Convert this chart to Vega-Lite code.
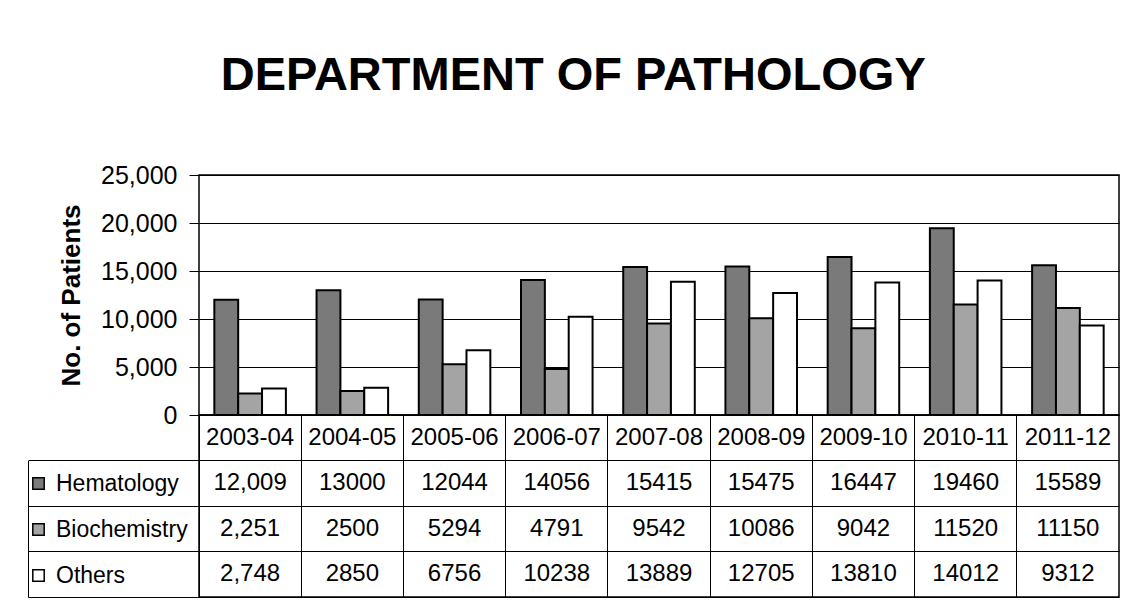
{
  "$schema": "https://vega.github.io/schema/vega-lite/v6.json",
  "background": "white",
  "padding": {"left": 26, "top": 52, "right": 5, "bottom": 5},
  "bounds": "flush",
  "spacing": 0,
  "config": {
    "font": "Liberation Sans",
    "view": {"stroke": "black", "strokeWidth": 1.5},
    "axis": {"labelFont": "Liberation Sans", "titleFont": "Liberation Sans", "labelColor": "black", "titleColor": "black"},
    "legend": {"labelFont": "Liberation Sans", "labelColor": "black"}
  },
  "title": {
    "text": "DEPARTMENT OF PATHOLOGY",
    "font": "Liberation Sans",
    "fontSize": 47,
    "fontWeight": "bold",
    "color": "black",
    "anchor": "middle",
    "baseline": "alphabetic",
    "offset": 25
  },
  "datasets": {
    "counts": [
      {"year": "2003-04", "series": "Hematology", "patients": 12009, "shown": "12,009"},
      {"year": "2004-05", "series": "Hematology", "patients": 13000, "shown": "13000"},
      {"year": "2005-06", "series": "Hematology", "patients": 12044, "shown": "12044"},
      {"year": "2006-07", "series": "Hematology", "patients": 14056, "shown": "14056"},
      {"year": "2007-08", "series": "Hematology", "patients": 15415, "shown": "15415"},
      {"year": "2008-09", "series": "Hematology", "patients": 15475, "shown": "15475"},
      {"year": "2009-10", "series": "Hematology", "patients": 16447, "shown": "16447"},
      {"year": "2010-11", "series": "Hematology", "patients": 19460, "shown": "19460"},
      {"year": "2011-12", "series": "Hematology", "patients": 15589, "shown": "15589"},
      {"year": "2003-04", "series": "Biochemistry", "patients": 2251, "shown": "2,251"},
      {"year": "2004-05", "series": "Biochemistry", "patients": 2500, "shown": "2500"},
      {"year": "2005-06", "series": "Biochemistry", "patients": 5294, "shown": "5294"},
      {"year": "2006-07", "series": "Biochemistry", "patients": 4791, "shown": "4791"},
      {"year": "2007-08", "series": "Biochemistry", "patients": 9542, "shown": "9542"},
      {"year": "2008-09", "series": "Biochemistry", "patients": 10086, "shown": "10086"},
      {"year": "2009-10", "series": "Biochemistry", "patients": 9042, "shown": "9042"},
      {"year": "2010-11", "series": "Biochemistry", "patients": 11520, "shown": "11520"},
      {"year": "2011-12", "series": "Biochemistry", "patients": 11150, "shown": "11150"},
      {"year": "2003-04", "series": "Others", "patients": 2748, "shown": "2,748"},
      {"year": "2004-05", "series": "Others", "patients": 2850, "shown": "2850"},
      {"year": "2005-06", "series": "Others", "patients": 6756, "shown": "6756"},
      {"year": "2006-07", "series": "Others", "patients": 10238, "shown": "10238"},
      {"year": "2007-08", "series": "Others", "patients": 13889, "shown": "13889"},
      {"year": "2008-09", "series": "Others", "patients": 12705, "shown": "12705"},
      {"year": "2009-10", "series": "Others", "patients": 13810, "shown": "13810"},
      {"year": "2010-11", "series": "Others", "patients": 14012, "shown": "14012"},
      {"year": "2011-12", "series": "Others", "patients": 9312, "shown": "9312"}
    ]
  },
  "data": {"name": "counts"},
  "resolve": {"scale": {"x": "independent", "y": "independent"}},
  "vconcat": [
    {
      "width": 920,
      "height": 240,
      "mark": {"type": "bar", "stroke": "black", "strokeWidth": 2},
      "encoding": {
        "x": {
          "field": "year", "type": "nominal", "sort": null,
          "scale": {"paddingInner": 0.3, "paddingOuter": 0.15},
          "axis": null
        },
        "xOffset": {"field": "series", "type": "nominal", "sort": ["Hematology", "Biochemistry", "Others"]},
        "y": {
          "field": "patients", "type": "quantitative",
          "scale": {"domain": [0, 25000], "nice": false},
          "axis": {
            "title": "No. of Patients",
            "values": [0, 5000, 10000, 15000, 20000, 25000],
            "format": ",d",
            "grid": true, "gridColor": "black", "gridWidth": 1,
            "domain": false,
            "tickColor": "black", "tickSize": 10,
            "labelFontSize": 25, "labelPadding": 12,
            "titleFontSize": 26, "titleFontWeight": "bold", "titlePadding": 16
          }
        },
        "fill": {
          "field": "series", "type": "nominal",
          "scale": {"domain": ["Hematology", "Biochemistry", "Others"], "range": ["#7a7a7a", "#a4a4a4", "#ffffff"]},
          "legend": {
            "orient": "none", "legendX": -172, "legendY": 297,
            "title": null, "padding": 0,
            "symbolType": "square", "symbolSize": 130,
            "symbolStrokeColor": "black", "symbolStrokeWidth": 1.5, "symbolOpacity": 1,
            "labelFontSize": 23, "labelOffset": 6, "rowPadding": 22
          }
        }
      }
    },
    {
      "width": 920,
      "height": 182,
      "encoding": {
        "x": {
          "field": "year", "type": "nominal", "sort": null,
          "scale": {"type": "band", "paddingInner": 0, "paddingOuter": 0},
          "axis": {"title": null, "labels": false, "ticks": false, "domain": false, "grid": true, "bandPosition": 0, "gridColor": "black", "gridWidth": 1}
        }
      },
      "layer": [
        {
          "mark": {"type": "text", "fontSize": 24, "font": "Liberation Sans", "color": "black", "baseline": "middle"},
          "encoding": {
            "y": {
              "field": "series", "type": "nominal",
              "scale": {"type": "band", "domain": ["Year", "Hematology", "Biochemistry", "Others"], "paddingInner": 0, "paddingOuter": 0},
              "axis": {
                "title": null, "labels": false,
                "bandPosition": 1, "tickExtra": false,
                "ticks": true, "tickSize": -171, "tickColor": "black", "tickWidth": 1,
                "offset": 171,
                "domain": true, "domainColor": "black", "domainWidth": 1, "domainDash": [0, 45.5, 300, 0],
                "grid": true, "gridColor": "black", "gridWidth": 1
              }
            },
            "text": {"field": "shown"}
          }
        },
        {
          "transform": [{"filter": "datum.series == 'Hematology'"}],
          "mark": {"type": "text", "fontSize": 24, "font": "Liberation Sans", "color": "black", "baseline": "middle"},
          "encoding": {
            "y": {"datum": "Year", "type": "nominal"},
            "text": {"field": "year"}
          }
        }
      ]
    }
  ]
}
